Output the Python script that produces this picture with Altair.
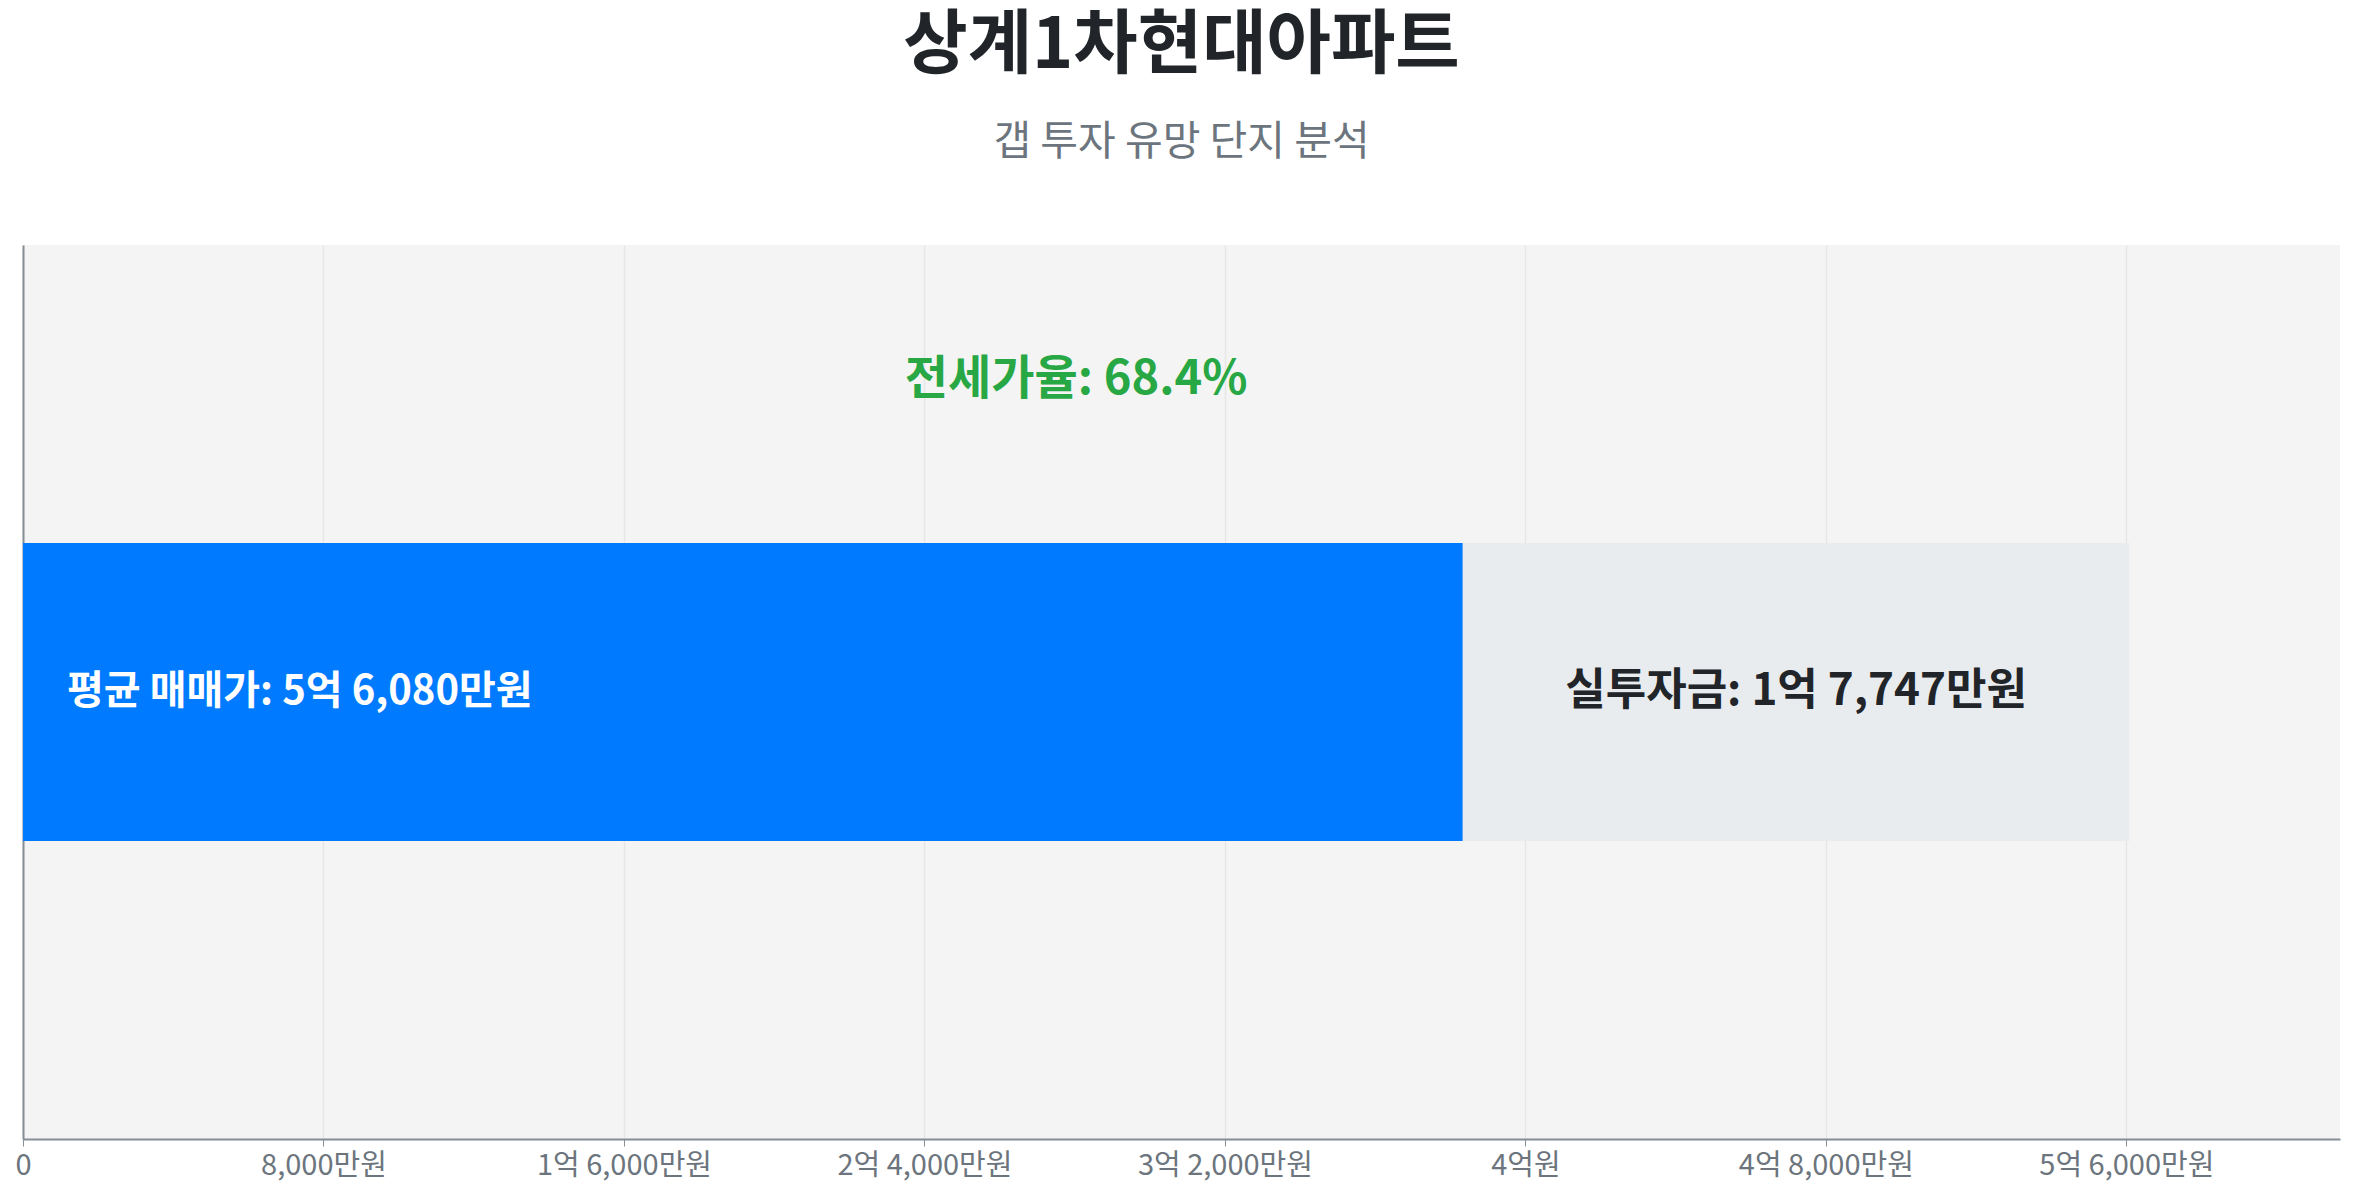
import altair as alt
import pandas as pd

# ---- data (values in 만원) ----
apt_name = "상계1차현대아파트"
subtitle_text = "갭 투자 유망 단지 분석"
segment_names = ["전세가", "실투자금"]
segment_values = [38333, 17747]
segment_colors = ["#007bff", "#e9ecef"]
sale_price = 56080
gap_amount = 17747
jeonse_rate = 68.4
tick_values = [0, 8000, 16000, 24000, 32000, 40000, 48000, 56000]

FONT = "Noto Sans CJK KR"


def fmt_won(v):
    eok, man = divmod(int(v), 10000)
    if eok and man:
        return f"{eok}억 {man:,}만원"
    if eok:
        return f"{eok}억원"
    return f"{man:,}만원"


starts, ends, acc = [], [], 0
for v in segment_values:
    starts.append(acc)
    acc += v
    ends.append(acc)

bars_df = pd.DataFrame({
    "name": segment_names,
    "start": starts,
    "end": ends,
    "row": ["bar"] * len(segment_names),
})

sale_df = pd.DataFrame({"x": [0], "row": ["bar"],
                        "label": [f"평균 매매가: {fmt_won(sale_price)}"]})
gap_df = pd.DataFrame({"x": [starts[1] + gap_amount / 2], "row": ["bar"],
                       "label": [f"실투자금: {fmt_won(gap_amount)}"]})
rate_df = pd.DataFrame({"x": [sale_price / 2], "row": ["rate"],
                        "label": [f"전세가율: {jeonse_rate}%"]})

x_scale = alt.Scale(domain=[0, sale_price * 1.1], nice=False, zero=True)
y_scale = alt.Scale(domain=["rate", "bar", "pad"], paddingInner=0, paddingOuter=0)

label_expr = (
    "datum.value == 0 ? '0' : "
    "(floor(datum.value / 10000) > 0 ? "
    "floor(datum.value / 10000) + '억' + "
    "(datum.value % 10000 > 0 ? ' ' + format(datum.value % 10000, ',') + '만원' : '원') "
    ": format(datum.value, ',') + '만원')"
)

x_axis = alt.Axis(values=tick_values, labelExpr=label_expr, title=None,
                  grid=True, gridColor="#e6e6e6", gridWidth=1.5,
                  domainColor="#868e96", domainWidth=2,
                  tickColor="#868e96", tickSize=7, tickWidth=1,
                  labelFont=FONT, labelFontSize=29, labelColor="#6c757d",
                  labelPadding=5, labelFlush=False, labelLimit=0, labelOverlap=False)
y_axis = alt.Axis(labels=False, ticks=False, title=None, grid=False,
                  domain=True, domainColor="#868e96", domainWidth=2)

bars = alt.Chart(bars_df).mark_bar().encode(
    x=alt.X("start:Q", scale=x_scale, axis=x_axis),
    x2="end:Q",
    y=alt.Y("row:N", scale=y_scale, axis=y_axis),
    color=alt.Color("name:N", scale=alt.Scale(domain=segment_names, range=segment_colors),
                    legend=None),
)

sale_text = alt.Chart(sale_df).mark_text(
    align="left", baseline="middle", dx=44, font=FONT, fontSize=40,
    fontWeight="bold", color="#ffffff"
).encode(x=alt.X("x:Q", scale=x_scale), y=alt.Y("row:N", scale=y_scale), text="label:N")

gap_text = alt.Chart(gap_df).mark_text(
    align="center", baseline="middle", font=FONT, fontSize=44,
    fontWeight="bold", color="#212529"
).encode(x=alt.X("x:Q", scale=x_scale), y=alt.Y("row:N", scale=y_scale), text="label:N")

rate_text = alt.Chart(rate_df).mark_text(
    align="center", baseline="alphabetic", font=FONT, fontSize=47,
    fontWeight="bold", color="#28a745"
).encode(x=alt.X("x:Q", scale=x_scale), y=alt.Y("row:N", scale=y_scale), text="label:N")

chart = alt.layer(bars, sale_text, gap_text, rate_text).properties(
    width=2317,
    height=894,
    padding={"left": 6, "right": 8, "top": 4, "bottom": 12},
    title=alt.TitleParams(
        text=apt_name, subtitle=subtitle_text, anchor="middle",
        font=FONT, fontSize=70, fontWeight="bold", color="#212529",
        subtitleFont=FONT, subtitleFontSize=41, subtitleColor="#6c757d",
        subtitlePadding=40, offset=81,
    ),
).configure_view(fill="#f4f4f4", strokeWidth=0)

chart.save("out.html", embed_options={"renderer": "svg", "actions": False})
